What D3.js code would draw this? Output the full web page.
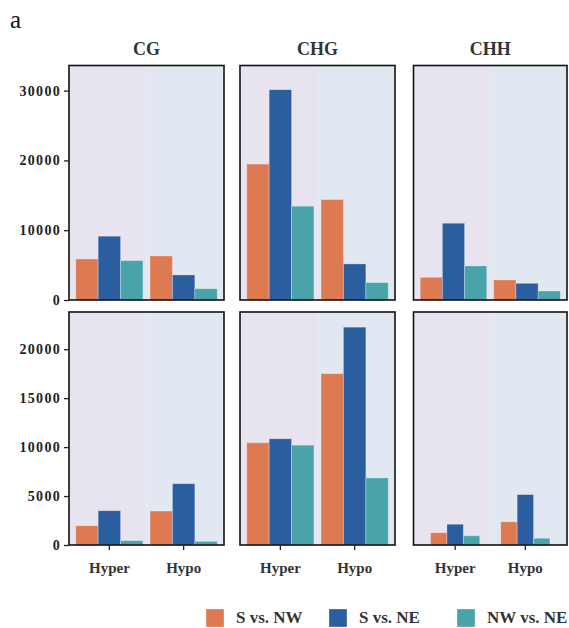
<!DOCTYPE html>
<html>
<head>
<meta charset="utf-8">
<script src="https://cdn.jsdelivr.net/npm/d3@7"></script>
<style>
  html, body { margin: 0; padding: 0; background: #fff; }
  svg { display: block; }
</style>
</head>
<body>
<svg id="chart" width="569" height="628"></svg>
<script>
// ---- Data ----
const contexts = ["CG", "CHG", "CHH"];
const groups = ["Hyper", "Hypo"];
const series = ["S vs. NW", "S vs. NE", "NW vs. NE"];
const colors = ["#DD7A52", "#2A5E9E", "#4AA3A9"];

// top row values [context][group][series]
const topCG  = [[5880, 9140, 5640], [6310, 3590, 1620]];
const topCHG = [[19470, 30130, 13440], [14390, 5170, 2490]];
const topCHH = [[3250, 11000, 4880], [2870, 2390, 1290]];
// bottom row values
const botCG  = [[1970, 3500, 440], [3470, 6260, 370]];
const botCHG = [[10450, 10850, 10200], [17500, 22250, 6850]];
const botCHH = [[1250, 2120, 940], [2370, 5150, 690]];

const topTicks = [0, 10000, 20000, 30000];
const botTicks = [0, 5000, 10000, 15000, 20000];
const topMax = 33600;
const botMax = 23800;

// ---- Layout ----
const svg = d3.select("#chart");
const serif = "'Liberation Serif', 'Times New Roman', serif";
const colX = [[69, 224], [240, 395], [413.5, 567]];
const rowY = [[65.5, 300], [312, 545]];
const rows = [
  {data: [topCG, topCHG, topCHH], ticks: topTicks, max: topMax},
  {data: [botCG, botCHG, botCHH], ticks: botTicks, max: botMax}
];
// bar-group band paddings per panel [row][col]
const pads = [
  [{pi: 0.095, po: 0.091}, {pi: 0.095, po: 0.091}, {pi: 0.095, po: 0.091}],
  [{pi: 0.095, po: 0.091}, {pi: 0.095, po: 0.091}, {pi: 0.3, po: 0.243}]
];
const bgColors = ["#E7E3EF", "#E1E8F2"];

// panel label
svg.append("text").attr("x", 10).attr("y", 28)
  .attr("font-family", serif).attr("font-size", 25).attr("fill", "#111")
  .text("a");

// titles
contexts.forEach((c, i) => {
  svg.append("text")
    .attr("x", (colX[i][0] + colX[i][1]) / 2).attr("y", 55)
    .attr("text-anchor", "middle")
    .attr("font-family", serif).attr("font-size", 18).attr("font-weight", "bold")
    .attr("fill", "#333").text(c);
});

rows.forEach((row, ri) => {
  const y = d3.scaleLinear().domain([0, row.max]).range([rowY[ri][1], rowY[ri][0]]);
  row.data.forEach((panel, ci) => {
    const [x0, x1] = colX[ci];
    const g = svg.append("g");
    // background halves
    const bgScale = d3.scaleBand().domain(groups).range([x0, x1]);
    groups.forEach((grp, gi) => {
      g.append("rect")
        .attr("x", bgScale(grp)).attr("y", rowY[ri][0])
        .attr("width", bgScale.bandwidth()).attr("height", rowY[ri][1] - rowY[ri][0])
        .attr("fill", bgColors[gi]);
    });
    // bars
    const xg = d3.scaleBand().domain(groups).range([x0, x1])
      .paddingInner(pads[ri][ci].pi).paddingOuter(pads[ri][ci].po);
    const xs = d3.scaleBand().domain(series).range([0, xg.bandwidth()]);
    groups.forEach((grp, gi) => {
      series.forEach((s, si) => {
        const v = panel[gi][si];
        g.append("rect")
          .attr("x", xg(grp) + xs(s)).attr("y", y(v))
          .attr("width", xs.bandwidth()).attr("height", y(0) - y(v))
          .attr("fill", colors[si])
          .attr("stroke", "rgba(255,255,255,0.35)").attr("stroke-width", 0.8);
      });
    });
    // border
    g.append("rect")
      .attr("x", x0).attr("y", rowY[ri][0])
      .attr("width", x1 - x0).attr("height", rowY[ri][1] - rowY[ri][0])
      .attr("fill", "none").attr("stroke", "#111").attr("stroke-width", 1.6);

    // y axis on left column
    if (ci === 0) {
      const ax = g.append("g").attr("transform", `translate(${x0},0)`)
        .call(d3.axisLeft(y).tickValues(row.ticks).tickSize(5).tickPadding(3).tickFormat(d3.format("d")));
      ax.select(".domain").remove();
      ax.selectAll("line").attr("stroke", "#222").attr("stroke-width", 1.3);
      ax.selectAll("text").attr("font-family", serif).attr("font-size", 14)
        .attr("font-weight", "bold").attr("fill", "#222").attr("letter-spacing", 1.3);
    }
    // x axis on bottom row
    if (ri === 1) {
      const ax = g.append("g").attr("transform", `translate(0,${rowY[ri][1]})`)
        .call(d3.axisBottom(xg).tickSize(5).tickPadding(12));
      ax.select(".domain").remove();
      ax.selectAll("line").attr("stroke", "#222").attr("stroke-width", 1.3);
      ax.selectAll("text").attr("font-family", serif).attr("font-size", 15)
        .attr("font-weight", "bold").attr("fill", "#333");
    }
  });
});

// legend
const legX = [206, 329, 457];
series.forEach((s, i) => {
  svg.append("rect").attr("x", legX[i]).attr("y", 609).attr("width", 18).attr("height", 18)
    .attr("fill", colors[i]).attr("stroke", "rgba(255,255,255,0.4)").attr("stroke-width", 0.8);
  svg.append("text").attr("x", legX[i] + 30).attr("y", 623)
    .attr("font-family", serif).attr("font-size", 17).attr("font-weight", "bold")
    .attr("fill", "#333").text(s);
});
</script>
</body>
</html>
